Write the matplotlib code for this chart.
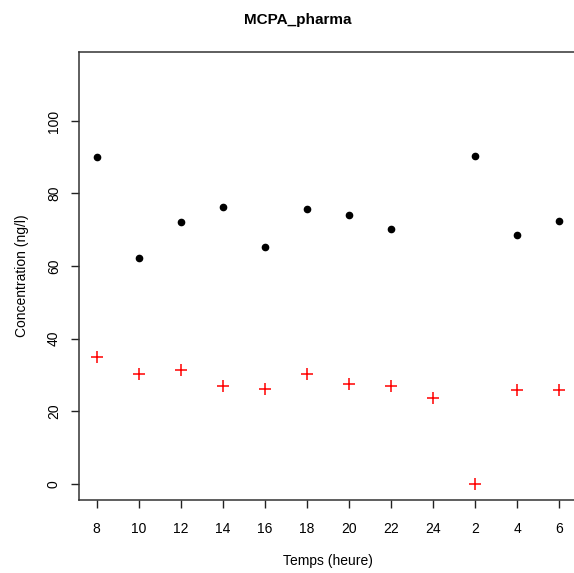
import numpy as np
import matplotlib
matplotlib.use("Agg")
import matplotlib.pyplot as plt

plt.rcParams['font.family'] = ['Liberation Sans', 'DejaVu Sans']

# hours of sampling (positions 1..12 on the x axis)
heures = ["8", "10", "12", "14", "16", "18", "20", "22", "24", "2", "4", "6"]
# black dots (no value at 24h)
serie_noire = [90.0, 62.2, 72.1, 76.3, 65.2, 75.7, 74.0, 70.2, np.nan, 90.4, 68.5, 72.4]
# red crosses
serie_rouge = [34.9, 30.3, 31.3, 26.8, 26.1, 30.3, 27.4, 27.0, 23.5, 0.0, 25.7, 25.7]

x = np.arange(1, len(heures) + 1)

fig = plt.figure(figsize=(5.74, 5.73), dpi=100)
ax = fig.add_axes([0.1376, 0.1274, 0.8674, 0.7818])

ax.plot(x, serie_noire, 'o', color='black', markersize=4.5, linestyle='none')
ax.plot(x, serie_rouge, '+', color='red', markersize=8, markeredgewidth=1.1, linestyle='none')

ax.set_xlim(0.58, 12.42)
ax.set_ylim(-4.5, 119)
ax.set_xticks(x)
ax.set_xticklabels(heures)
ax.set_yticks([0, 20, 40, 60, 80, 100])
ax.set_yticklabels(["0", "20", "40", "60", "80", "100"], rotation=90, va='center')

ax.tick_params(axis='both', direction='out', length=6, width=1, labelsize=10,
               color='#222222')
ax.tick_params(axis='x', pad=10)
ax.tick_params(axis='y', pad=7)
for s in ax.spines.values():
    s.set_linewidth(1.1)
    s.set_color('#333333')

ax.set_xlabel("Temps (heure)", fontsize=10, labelpad=13)
ax.set_ylabel("Concentration (ng/l)", fontsize=10, labelpad=13)
fig.text(298 / 574, 1 - 20 / 573, "MCPA_pharma", ha='center', va='center',
         fontsize=11, fontweight='bold')

fig.savefig("out.png", dpi=100)
